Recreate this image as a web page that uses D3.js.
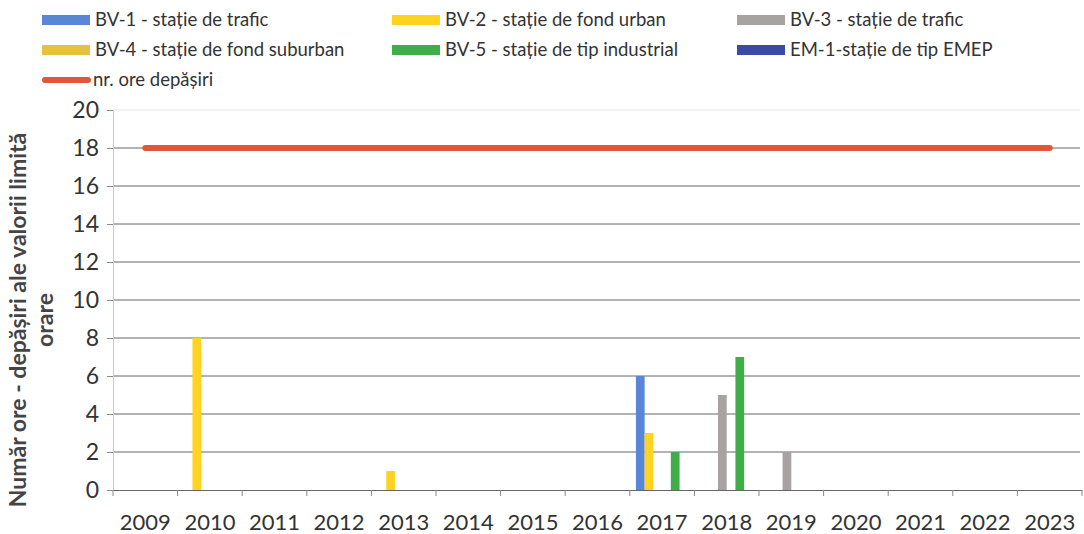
<!DOCTYPE html>
<html><head><meta charset="utf-8">
<script src="https://cdn.jsdelivr.net/npm/d3@7"></script>
<style>body{margin:0;background:#fff}svg{display:block}</style>
</head><body>
<svg id="c" width="1084" height="534"></svg>
<script>
const years = ["2009","2010","2011","2012","2013","2014","2015","2016","2017","2018","2019","2020","2021","2022","2023"];
const seriesNames = ["BV-1 - stație de trafic","BV-2 - stație de fond urban","BV-3 - stație de trafic","BV-4 - stație de fond suburban","BV-5 - stație de tip industrial","EM-1-stație de tip EMEP"];
const bv1 = [0,0,0,0,0,0,0,0,6,0,0,0,0,0,0];
const bv2 = [0,8,0,0,1,0,0,0,3,0,0,0,0,0,0];
const bv3 = [0,0,0,0,0,0,0,0,0,5,2,0,0,0,0];
const bv4 = [0,0,0,0,0,0,0,0,0,0,0,0,0,0,0];
const bv5 = [0,0,0,0,0,0,0,0,2,7,0,0,0,0,0];
const em1 = [0,0,0,0,0,0,0,0,0,0,0,0,0,0,0];
const exceedName = "nr. ore depășiri";
const exceed = [18,18,18,18,18,18,18,18,18,18,18,18,18,18,18];
const yTicks = [0,2,4,6,8,10,12,14,16,18,20];
const colors = ["#5a86d8","#ffd420","#a9a2a2","#e4c23e","#3fae4a","#3a4aa6"];
const lineColor = "#e2563a";

const seriesVals = [bv1,bv2,bv3,bv4,bv5,em1];
const svg = d3.select("#c");
const x = d3.scaleBand().domain(years).range([113,1082]).paddingInner(0).paddingOuter(0);
const xs = d3.scaleBand().domain(d3.range(6)).range([0,x.bandwidth()]).paddingInner(0).paddingOuter(0.7);
const y = d3.scaleLinear().domain([0,20]).range([490,110]);

// gridlines
svg.append("g").selectAll("line").data(yTicks.filter(t=>t>0)).join("line")
  .attr("x1",113).attr("x2",1080).attr("y1",d=>y(d)).attr("y2",d=>y(d))
  .attr("stroke",d=>d===20?"#e4e4e4":"#666").attr("stroke-width",1);

// y axis
const ya = svg.append("g").attr("transform","translate(113,0)")
  .call(d3.axisLeft(y).tickValues(yTicks).tickSize(6).tickPadding(8));
ya.select(".domain").attr("stroke","#e0c2ba");
ya.selectAll(".tick line").attr("stroke","#888");
ya.selectAll("text").attr("font-family","Lato").attr("font-size",23).attr("fill","#333");

// x axis
const xa = svg.append("g").attr("transform","translate(0,490)")
  .call(d3.axisBottom(x).tickSize(0).tickPadding(24));
xa.select(".domain").attr("stroke","#666");
xa.selectAll("text").attr("font-family","Lato").attr("font-size",22).attr("fill","#333");
svg.append("g").selectAll("line").data(d3.range(years.length+1)).join("line")
  .attr("x1",i=>x.range()[0]+i*x.step()).attr("x2",i=>x.range()[0]+i*x.step())
  .attr("y1",490).attr("y2",496).attr("stroke","#888");

// bars
seriesVals.forEach((vals,si)=>{
  svg.append("g").selectAll("rect").data(vals.map((v,i)=>({v,yr:years[i]})).filter(d=>d.v>0)).join("rect")
    .attr("x",d=>x(d.yr)+xs(si)).attr("width",xs.bandwidth())
    .attr("y",d=>y(d.v)).attr("height",d=>y(0)-y(d.v)).attr("fill",colors[si]);
});

// line
svg.append("path").datum(exceed.map((v,i)=>({v,yr:years[i]})))
  .attr("d",d3.line().x(d=>x(d.yr)+x.bandwidth()/2).y(d=>y(d.v)))
  .attr("fill","none").attr("stroke",lineColor).attr("stroke-width",6).attr("stroke-linecap","round");

// y title
const yt = svg.append("text").attr("transform","translate(0,320) rotate(-90)")
  .attr("font-family","Lato").attr("font-weight","bold").attr("font-size",23).attr("fill","#444").attr("text-anchor","middle");
yt.append("tspan").attr("x",0).attr("y",26).text("Număr ore - depășiri ale valorii limită");
yt.append("tspan").attr("x",0).attr("y",53).text("orare");

// legend
const legPos = [[42,20],[392,20],[737,20],[42,50],[392,50],[737,50]];
seriesNames.forEach((n,i)=>{
  const [lx,ly] = legPos[i];
  svg.append("rect").attr("x",lx).attr("y",ly-5).attr("width",48).attr("height",10).attr("fill",colors[i]);
  svg.append("text").attr("x",lx+53).attr("y",ly+6).text(n)
    .attr("font-family","Lato").attr("font-size",18.5).attr("fill","#333");
});
svg.append("line").attr("x1",45).attr("x2",88).attr("y1",80).attr("y2",80)
  .attr("stroke",lineColor).attr("stroke-width",6).attr("stroke-linecap","round");
svg.append("text").attr("x",93).attr("y",86).text(exceedName)
  .attr("font-family","Lato").attr("font-size",18.5).attr("fill","#333");
</script>
</body></html>
